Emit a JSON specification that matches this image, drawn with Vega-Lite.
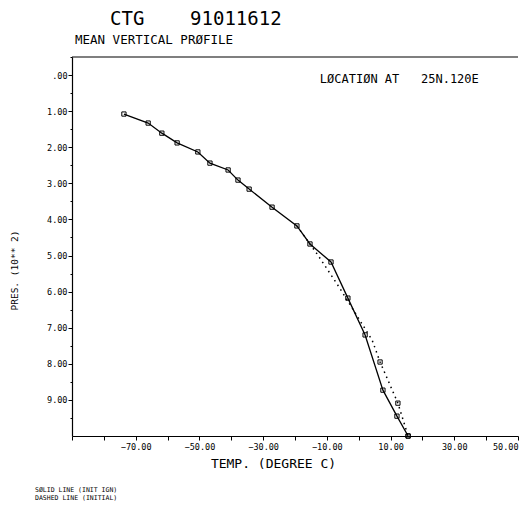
{
  "$schema": "https://vega.github.io/schema/vega-lite/v6.json",
  "width": 446,
  "height": 379,
  "autosize": "none",
  "padding": {"left": 72, "top": 57, "right": 5, "bottom": 77},
  "background": "white",
  "config": {
    "view": {"stroke": null},
    "font": "DejaVu Sans Mono",
    "axis": {
      "tickCount": 30,
      "labelFont": "DejaVu Sans Mono",
      "labelFontSize": 8.5,
      "labelColor": "black",
      "tickColor": "black",
      "domainColor": "black",
      "domainWidth": 1.2,
      "grid": false,
      "titleFont": "DejaVu Sans Mono",
      "titleFontWeight": "normal",
      "titleColor": "black",
      "titleBaseline": "middle"
    }
  },
  "title": {
    "text": "CTG\u00a0\u00a0\u00a0\u00a091011612",
    "anchor": "start",
    "frame": "group",
    "dx": 38,
    "font": "DejaVu Sans Mono",
    "fontSize": 19,
    "fontWeight": "normal",
    "color": "black",
    "offset": 5
  },
  "datasets": {
    "profile": [
      {"series": "solid", "T": -73.7, "P": 1.08},
      {"series": "solid", "T": -66.1, "P": 1.33},
      {"series": "solid", "T": -61.8, "P": 1.61},
      {"series": "solid", "T": -57.0, "P": 1.88},
      {"series": "solid", "T": -50.5, "P": 2.13},
      {"series": "solid", "T": -46.7, "P": 2.44},
      {"series": "solid", "T": -41.0, "P": 2.63},
      {"series": "solid", "T": -37.9, "P": 2.91},
      {"series": "solid", "T": -34.4, "P": 3.16},
      {"series": "solid", "T": -27.2, "P": 3.66},
      {"series": "solid", "T": -19.4, "P": 4.18},
      {"series": "solid", "T": -15.3, "P": 4.68},
      {"series": "solid", "T": -8.7, "P": 5.18},
      {"series": "solid", "T": -3.4, "P": 6.18},
      {"series": "solid", "T": 2.0, "P": 7.2},
      {"series": "solid", "T": 7.6, "P": 8.73},
      {"series": "solid", "T": 12.0, "P": 9.45},
      {"series": "solid", "T": 15.5, "P": 10.0},
      {"series": "dotted", "T": -19.4, "P": 4.18},
      {"series": "dotted", "T": -12.8, "P": 4.99},
      {"series": "dotted", "T": -6.2, "P": 5.87},
      {"series": "dotted", "T": 4.2, "P": 7.34},
      {"series": "dotted", "T": 6.7, "P": 7.95},
      {"series": "dotted", "T": 12.3, "P": 9.09},
      {"series": "dotted", "T": 15.5, "P": 10.0}
    ],
    "notes": [
      {"label": "MEAN VERTICAL PRØFILE"}
    ]
  },
  "layer": [
    {
      "data": {"name": "profile"},
      "transform": [{"filter": "datum.series == 'dotted'"}],
      "mark": {"type": "line", "color": "black", "strokeWidth": 1.5, "strokeDash": [1.5, 4]},
      "encoding": {
        "x": {
          "field": "T",
          "type": "quantitative",
          "scale": {"domain": [-90, 50], "nice": false, "zero": false},
          "axis": {
            "title": "TEMP. (DEGREE C)",
            "values": [-90, -80, -70, -60, -50, -40, -30, -20, -10, 0, 10, 20, 30, 40, 50],
            "tickCount": 30,
            "labelExpr": "datum.value != -90 && abs(datum.value) % 20 == 10 ? format(datum.value, '.2f') : ''",
            "labelFlush": true,
            "labelOverlap": false,
            "labelPadding": 2,
            "tickSize": 4,
            "titleFontSize": 13,
            "titleX": 201,
            "titleY": 27
          }
        },
        "y": {
          "field": "P",
          "type": "quantitative",
          "scale": {"domain": [-0.5, 10], "reverse": true, "nice": false, "zero": false},
          "axis": {
            "title": "PRES. (10** 2)",
            "values": [-0.5, 0, 0.5, 1, 1.5, 2, 2.5, 3, 3.5, 4, 4.5, 5, 5.5, 6, 6.5, 7, 7.5, 8, 8.5, 9, 9.5],
            "tickCount": 30,
            "labelExpr": "datum.value % 1 != 0 ? '' : (datum.value == 0 ? '.00' : format(datum.value, '.2f'))",
            "labelOverlap": false,
            "labelPadding": 1,
            "tickSize": {"condition": {"test": "datum.value % 1 != 0", "value": 2}, "value": 4},
            "titleFontSize": 9.5,
            "titleX": -58,
            "titleY": 213
          }
        },
        "order": {"field": "P"}
      }
    },
    {
      "data": {"name": "profile"},
      "transform": [{"filter": "datum.series == 'solid'"}],
      "mark": {"type": "line", "color": "black", "strokeWidth": 1.3},
      "encoding": {
        "x": {"field": "T", "type": "quantitative"},
        "y": {"field": "P", "type": "quantitative"},
        "order": {"field": "P"}
      }
    },
    {
      "data": {"name": "profile"},
      "transform": [{"filter": "datum.series == 'solid' || datum.P > 7.5"}],
      "mark": {"type": "point", "shape": "square", "filled": false, "color": "black", "size": 18, "strokeWidth": 1, "opacity": 1},
      "encoding": {
        "x": {"field": "T", "type": "quantitative"},
        "y": {"field": "P", "type": "quantitative"}
      }
    },
    {
      "data": {"name": "notes"},
      "mark": {"type": "rule", "color": "black", "strokeWidth": 1.2},
      "encoding": {
        "x": {"datum": -90, "type": "quantitative"},
        "x2": {"datum": 50},
        "y": {"datum": -0.5, "type": "quantitative"}
      }
    },
    {
      "data": {"name": "notes"},
      "mark": {"type": "text", "align": "left", "baseline": "middle", "font": "DejaVu Sans Mono", "fontSize": 12.5, "color": "black"},
      "encoding": {
        "x": {"datum": -89.06, "type": "quantitative"},
        "y": {"datum": -0.97, "type": "quantitative"},
        "text": {"field": "label"}
      }
    },
    {
      "data": {"name": "notes"},
      "mark": {"type": "text", "align": "left", "baseline": "middle", "font": "DejaVu Sans Mono", "fontSize": 12, "color": "black"},
      "encoding": {
        "x": {"datum": -12.2, "type": "quantitative"},
        "y": {"datum": 0.11, "type": "quantitative"},
        "text": {"value": "LØCATIØN AT\u00a0\u00a0\u00a025N.120E"}
      }
    },
    {
      "data": {"name": "notes"},
      "mark": {"type": "text", "align": "left", "baseline": "middle", "font": "DejaVu Sans Mono", "fontSize": 6.5, "lineHeight": 8, "color": "black"},
      "encoding": {
        "x": {"datum": -101.6, "type": "quantitative"},
        "y": {"datum": 11.5, "type": "quantitative"},
        "text": {"value": ["SØLID LINE (INIT IGN)", "DASHED LINE (INITIAL)"]}
      }
    }
  ]
}
